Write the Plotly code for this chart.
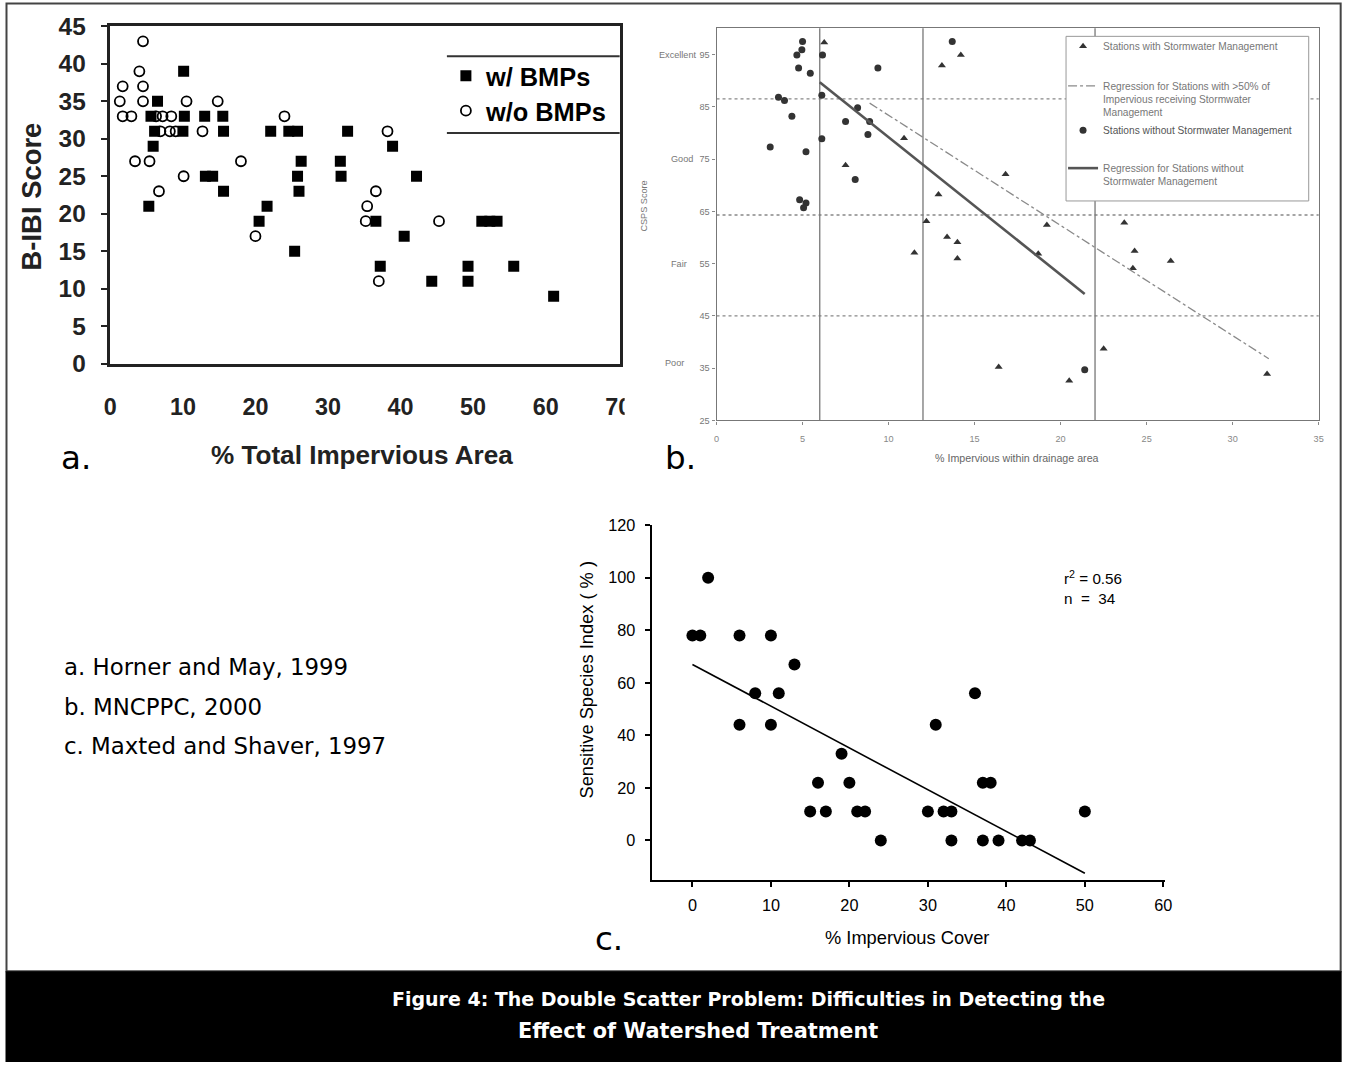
import plotly.graph_objects as go

W, H = 1348, 1068
# the photographed page maps figure pixels to screen pixels as
# screen = O + S * figure ; positions below are given in screen pixels
SX, OX = 0.988, 5.5
SY, OY = 0.977, 11.6
FS = 1.016  # font scale compensation


def px(x):
    return ((x - OX) / SX) / W


def py(y):
    return 1 - ((y - OY) / SY) / H


def f(s):
    return s * FS


# ---------------- Panel a: Horner and May, 1999 ----------------
a_bmp_x = [5.3, 5.6, 5.9, 6.1, 6.5, 10.0, 10.1, 10.2, 13.0, 13.1, 14.1, 15.5, 15.6, 15.6,
           20.5, 21.6, 22.1, 24.6, 25.4, 25.8, 25.8, 26.0, 26.3, 31.7, 31.8, 32.7, 36.6,
           37.2, 38.9, 40.5, 42.2, 44.3, 49.3, 49.3, 51.2, 52.3, 53.3, 55.6, 61.1]
a_bmp_y = [21, 33, 29, 31, 35, 31, 39, 33, 33, 25, 25, 33, 31, 23,
           19, 21, 31, 31, 15, 31, 25, 23, 27, 27, 25, 31, 19,
           13, 29, 17, 25, 11, 13, 11, 19, 19, 19, 13, 9]
a_nobmp_x = [1.3, 1.7, 1.7, 2.9, 3.4, 4.0, 4.5, 4.5, 4.5, 5.4, 6.3, 6.7, 6.9, 7.2, 8.2,
             8.4, 9.0, 10.1, 10.5, 12.7, 14.8, 18.0, 20.0, 24.0, 35.2, 35.4, 36.6, 37.0,
             38.2, 45.3]
a_nobmp_y = [35, 37, 33, 33, 27, 39, 43, 37, 35, 27, 33, 23, 31, 33, 31,
             33, 31, 25, 35, 31, 35, 27, 17, 33, 19, 21, 23, 11,
             31, 19]
a_xticks = [0, 10, 20, 30, 40, 50, 60, 70]
a_yticks = [0, 5, 10, 15, 20, 25, 30, 35, 40, 45]

# ---------------- Panel b: MNCPPC, 2000 ----------------
b_swm_x = [6.26, 14.2, 13.1, 10.9, 7.5, 16.8, 12.9, 12.2, 13.4, 14.0, 11.5, 14.0, 16.4,
           19.2, 23.7, 24.3, 18.7, 24.2, 26.4, 22.5, 20.5, 32.0]
b_swm_y = [97.3, 94.9, 92.9, 79.0, 73.8, 72.1, 68.2, 63.1, 60.1, 59.1, 57.1, 56.0, 35.2,
           62.4, 62.8, 57.4, 56.9, 54.1, 55.5, 38.7, 32.6, 33.9]
b_noswm_x = [5.0, 4.96, 4.67, 4.77, 5.45, 6.16, 9.38, 13.7, 3.6, 3.95, 4.38, 6.12, 8.2,
             7.5, 8.9, 8.8, 6.12, 3.12, 5.2, 8.06, 4.83, 5.2, 5.06, 21.4]
b_noswm_y = [97.5, 95.9, 94.9, 92.4, 91.4, 94.9, 92.4, 97.5, 86.8, 86.2, 83.2, 87.2, 84.8,
             82.2, 82.2, 79.7, 78.9, 77.3, 76.4, 71.1, 67.2, 66.6, 65.7, 34.7]
b_reg_noswm_x = [6.0, 21.4]
b_reg_noswm_y = [89.7, 49.2]
b_reg_swm_x = [8.9, 32.1]
b_reg_swm_y = [85.7, 36.8]
b_class_lines = [86.5, 64.3, 45.0]
b_imperv_lines = [6.0, 12.0, 22.0]
b_xticks = [0, 5, 10, 15, 20, 25, 30, 35]
b_yticks = [25, 35, 45, 55, 65, 75, 85, 95]
b_class_names = ["Excellent", "Good", "Fair", "Poor"]
b_class_at = [95, 75, 55, 36]

# ---------------- Panel c: Maxted and Shaver, 1997 ----------------
c_x = [0, 1, 2, 6, 10, 13, 8, 11, 6, 10, 19, 16, 20, 15, 17, 21, 22, 24, 31, 37, 38,
       30, 32, 33, 50, 33, 37, 39, 42, 43, 36]
c_y = [78, 78, 100, 78, 78, 67, 56, 56, 44, 44, 33, 22, 22, 11, 11, 11, 11, 0, 44, 22, 22,
       11, 11, 11, 11, 0, 0, 0, 0, 0, 56]
c_fit_x = [0, 50]
c_fit_y = [67, -12.5]
c_xticks = [0, 10, 20, 30, 40, 50, 60]
c_yticks = [0, 20, 40, 60, 80, 100, 120]

ARIAL = "Liberation Sans"
GEO = "DejaVu Sans"

fig = go.Figure()

# panel a traces
fig.add_trace(go.Scatter(x=a_bmp_x, y=a_bmp_y, mode="markers", name="w/ BMPs",
                         marker=dict(symbol="square", size=11, color="black"),
                         xaxis="x", yaxis="y", legend="legend"))
fig.add_trace(go.Scatter(x=a_nobmp_x, y=a_nobmp_y, mode="markers", name="w/o BMPs",
                         marker=dict(symbol="circle-open", size=10, color="black",
                                     line=dict(width=1.8, color="black")),
                         xaxis="x", yaxis="y", legend="legend2"))

# panel b traces
fig.add_trace(go.Scatter(x=b_swm_x, y=b_swm_y, mode="markers",
                         name="Stations with Stormwater Management",
                         marker=dict(symbol="triangle-up", size=7, color="#333"),
                         xaxis="x2", yaxis="y2", legend="legend3"))
fig.add_trace(go.Scatter(x=b_reg_swm_x, y=b_reg_swm_y, mode="lines",
                         name="Regression for Stations with >50% of<br>Impervious receiving Stormwater<br>Management",
                         line=dict(color="#8a8a8a", width=1.3, dash="dashdot"),
                         xaxis="x2", yaxis="y2", legend="legend4"))
fig.add_trace(go.Scatter(x=b_noswm_x, y=b_noswm_y, mode="markers",
                         name="Stations without Stormwater Management",
                         marker=dict(symbol="circle", size=7, color="#333"),
                         xaxis="x2", yaxis="y2", legend="legend5"))
fig.add_trace(go.Scatter(x=b_reg_noswm_x, y=b_reg_noswm_y, mode="lines",
                         name="Regression for Stations without<br>Stormwater Management",
                         line=dict(color="#555", width=2.6),
                         xaxis="x2", yaxis="y2", legend="legend6"))

# panel c traces
fig.add_trace(go.Scatter(x=c_x, y=c_y, mode="markers", showlegend=False,
                         marker=dict(symbol="circle", size=12, color="black"),
                         xaxis="x3", yaxis="y3"))
fig.add_trace(go.Scatter(x=c_fit_x, y=c_fit_y, mode="lines", showlegend=False,
                         line=dict(color="black", width=1.6),
                         xaxis="x3", yaxis="y3"))

legend_common = dict(xanchor="left", yanchor="middle", bgcolor="rgba(0,0,0,0)",
                     borderwidth=0, itemwidth=30)
small_leg_font = dict(family=ARIAL, size=f(10), color="#777")
big_leg_font = dict(family=ARIAL, size=f(25), color="black", weight="bold")

fig.update_layout(
    width=W, height=H, autosize=False,
    margin=dict(l=0, r=0, t=0, b=0, pad=0),
    paper_bgcolor="white", plot_bgcolor="rgba(0,0,0,0)",
    showlegend=True,
    legend=dict(x=px(446), y=py(75), font=big_leg_font, **legend_common),
    legend2=dict(x=px(446), y=py(110), font=big_leg_font, **legend_common),
    legend3=dict(x=px(1064), y=py(45), font=small_leg_font, **legend_common),
    legend4=dict(x=px(1064), y=py(98), font=small_leg_font, valign="top", **legend_common),
    legend5=dict(x=px(1064), y=py(129), font=dict(family=ARIAL, size=f(10), color="#555"),
                 **legend_common),
    legend6=dict(x=px(1064), y=py(174), font=small_leg_font, valign="top", **legend_common),
    # panel a axes
    xaxis=dict(domain=[px(110), px(620)], range=[0, 70.2], anchor="y",
               tickvals=a_xticks, ticks="", showgrid=False,
               zeroline=False, showline=True, linecolor="#222", linewidth=2.5, mirror=True,
               tickfont=dict(family=ARIAL, size=f(23), color="#222", weight="bold"),
               ticklabelstandoff=21),
    yaxis=dict(domain=[py(363), py(25)], range=[0, 45], anchor="x",
               tickvals=a_yticks, ticks="outside", ticklen=7, tickwidth=2, tickcolor="#222",
               showgrid=False, zeroline=False, showline=True, linecolor="#222", linewidth=2.5,
               mirror=True, tickfont=dict(family=ARIAL, size=f(24), color="#222", weight="bold"),
               ticklabelstandoff=10),
    # panel b axes
    xaxis2=dict(domain=[px(717), px(1320)], range=[0, 35], anchor="y2",
                tickvals=b_xticks, ticks="outside", ticklen=3, tickcolor="#888",
                showgrid=False, zeroline=False, showline=True, linecolor="#777", linewidth=1.3,
                mirror=True, tickfont=dict(family=ARIAL, size=f(9), color="#888"),
                ticklabelstandoff=6),
    yaxis2=dict(domain=[py(420), py(27)], range=[25, 100], anchor="x2",
                tickvals=b_yticks, ticks="outside", ticklen=3, tickcolor="#888",
                showgrid=False, zeroline=False, showline=True, linecolor="#777", linewidth=1.3,
                mirror=True, tickfont=dict(family=ARIAL, size=f(9), color="#777"),
                ticklabelstandoff=1),
    # panel c axes
    xaxis3=dict(domain=[px(652), px(1166)], range=[-5.2, 60.2], anchor="y3",
                tickvals=c_xticks, ticks="outside", ticklen=5, tickwidth=1.5, tickcolor="black",
                showgrid=False, zeroline=False, showline=True, linecolor="black", linewidth=2,
                tickfont=dict(family=ARIAL, size=f(16), color="black"), ticklabelstandoff=4),
    yaxis3=dict(domain=[py(881), py(525)], range=[-15.2, 120], anchor="x3",
                tickvals=c_yticks, ticks="outside", ticklen=5, tickwidth=1.5, tickcolor="black",
                showgrid=False, zeroline=False, showline=True, linecolor="black", linewidth=2,
                tickfont=dict(family=ARIAL, size=f(16), color="black"), ticklabelstandoff=6),
)

shapes = []
# outer frame and footer
shapes.append(dict(type="rect", xref="paper", yref="paper", x0=px(6), x1=px(1342),
                   y0=py(972), y1=py(2), line=dict(color="#444", width=2), layer="below"))
shapes.append(dict(type="rect", xref="paper", yref="paper", x0=px(5), x1=px(1343),
                   y0=py(1063), y1=py(972), fillcolor="black", line=dict(width=0), layer="below"))
# panel a legend rules
for yy in [55, 132]:
    shapes.append(dict(type="line", xref="paper", yref="paper", x0=px(447), x1=px(620),
                       y0=py(yy), y1=py(yy), line=dict(color="#333", width=2)))
# the scanned panel a is cut just right of its last tick label
shapes.append(dict(type="rect", xref="paper", yref="paper", x0=px(625), x1=px(645),
                   y0=py(422), y1=py(385), fillcolor="white", line=dict(width=0), layer="above"))
# panel b class thresholds
for v in b_class_lines:
    shapes.append(dict(type="line", xref="x2 domain", yref="y2", x0=0, x1=1, y0=v, y1=v,
                       line=dict(color="#888", width=1.3, dash="dot"), layer="below"))
# panel b imperviousness thresholds
for v in b_imperv_lines:
    shapes.append(dict(type="line", xref="x2", yref="y2 domain", x0=v, x1=v, y0=0, y1=1,
                       line=dict(color="#777", width=1.3), layer="below"))
# panel b legend box
shapes.append(dict(type="rect", xref="paper", yref="paper", x0=px(1067), x1=px(1310),
                   y0=py(200), y1=py(35), line=dict(color="#999", width=1),
                   fillcolor="white", layer="below"))
fig.update_layout(shapes=shapes)


def note(text, x, y, size, family=ARIAL, color="black", weight="normal", angle=0,
         xanchor="center", yanchor="middle", yref="paper", align="center"):
    return dict(text=text, x=px(x), y=(py(y) if yref == "paper" else y), xref="paper",
                yref=yref, xanchor=xanchor, yanchor=yanchor, textangle=angle,
                showarrow=False, align=align,
                font=dict(family=family, size=f(size), color=color, weight=weight))


ann = []
# panel a titles
ann.append(note("B-IBI Score", 32, 195, 27, color="#222", weight="bold", angle=-90))
ann.append(note("% Total Impervious Area", 362, 455, 25.7, color="#222", weight="bold"))
# panel b titles
ann.append(note("CSPS Score", 644, 205, 9, color="#777", angle=-90))
ann.append(note("% Impervious within drainage area", 1018, 458, 10.5, color="#666"))
for name, at, right in zip(b_class_names, b_class_at, [698, 695, 689, 686]):
    ann.append(note(name, right, at, 9, color="#777", xanchor="right", yref="y2"))
# panel c titles
ann.append(note("Sensitive Species Index ( % )", 587, 680, 18, angle=-90))
ann.append(note("% Impervious Cover", 908, 938, 18))
ann.append(note("r<sup>2</sup> = 0.56<br>n  =  34", 1063, 587, 15, xanchor="left",
                align="left"))
# panel letters
for lab, xx, yy in [("a.", 76, 458), ("b.", 681, 458), ("c.", 609, 940)]:
    ann.append(note(lab, xx, yy, 32, family=GEO))
# sources
for txt, yy in [("a. Horner and May, 1999", 667), ("b. MNCPPC, 2000", 707),
                ("c. Maxted and Shaver, 1997", 746)]:
    ann.append(note(txt, 62, yy, 22.5, family=GEO, xanchor="left"))
# footer caption (two lines)
ann.append(note("Figure 4: The Double Scatter Problem: Difficulties in Detecting the",
                749, 1000, 18.7, family=GEO, color="white", weight="bold"))
ann.append(note("Effect of Watershed Treatment",
                698, 1032, 20.5, family=GEO, color="white", weight="bold"))
fig.update_layout(annotations=ann)

fig.write_html("out.html", config={"displayModeBar": False},
               post_script="document.body.style.margin='0px';document.body.style.overflow='hidden';")
